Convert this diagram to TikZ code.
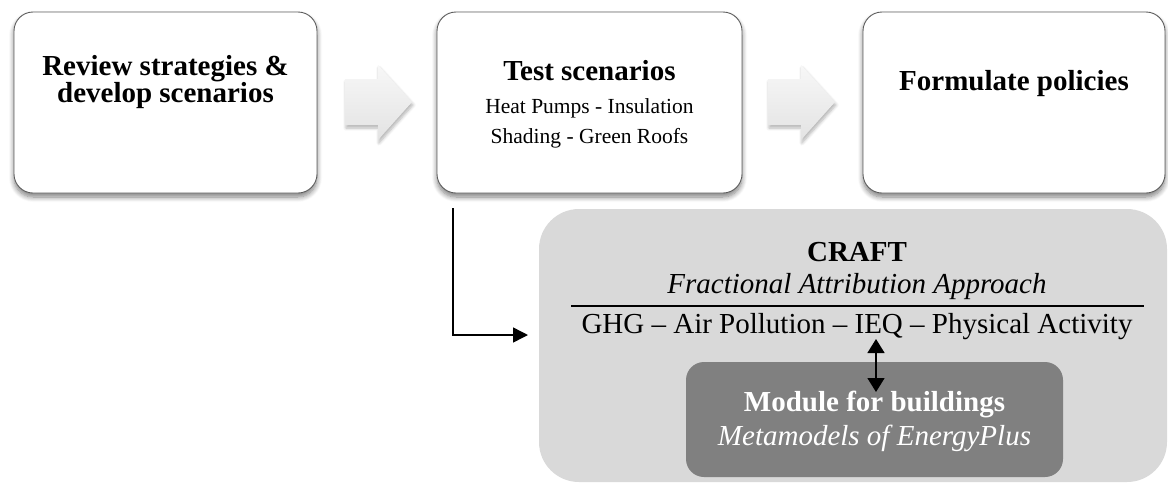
\documentclass[tikz,border=0pt]{standalone}
\usepackage{fontspec}
\setmainfont{Liberation Serif}
\usetikzlibrary{arrows.meta,shadows.blur}
\definecolor{boxborder}{HTML}{5E5E5E}
\definecolor{craftgray}{HTML}{D9D9D9}
\definecolor{modgray}{HTML}{808080}
\begin{document}
\begin{tikzpicture}[x=1pt,y=-1pt,
  stepbox/.style={draw=boxborder, line width=0.9pt, fill=white, rounded corners=19pt,
    inner sep=0pt, outer sep=0pt, anchor=north west,
    blur shadow={shadow xshift=0pt, shadow yshift=-4pt, shadow blur radius=5pt, shadow blur steps=8, shadow opacity=50}},
  bigtitle/.style={font=\fontsize{29}{29}\selectfont\bfseries, anchor=base, inner sep=0pt},
  bigital/.style={font=\fontsize{29}{29}\selectfont\itshape, anchor=base, inner sep=0pt},
  bigreg/.style={font=\fontsize{29}{29}\selectfont, anchor=base, inner sep=0pt},
  smalltext/.style={font=\fontsize{21.5}{21.5}\selectfont, anchor=base, inner sep=0pt},
  arrowfill/.style={top color=gray!6, bottom color=gray!22, draw=none,
    blur shadow={shadow xshift=1pt, shadow yshift=-3pt, shadow blur radius=3pt, shadow blur steps=6, shadow opacity=30}},
  conn/.style={line width=1.5pt, -{Triangle[length=15pt,width=15pt]}},
  dconn/.style={line width=1.5pt, {Triangle[length=14pt,width=17pt]}-{Triangle[length=14pt,width=17pt]}},
  blockarr/.pic={
    \path[arrowfill] (0,14) -- (33,14) -- (33,0) -- (67,37) -- (33,75) -- (33,60) -- (0,60) -- cycle;
  }
]
\useasboundingbox (0,0) rectangle (1168,483);

% top boxes
\node[stepbox, minimum width=303pt, minimum height=181pt] (b1) at (14,12) {};
\node[stepbox, minimum width=305pt, minimum height=181pt] (b2) at (437,12) {};
\node[stepbox, minimum width=302pt, minimum height=181pt] (b3) at (863,12) {};

% block arrows
\pic at (345,65) {blockarr};
\pic at (768,65) {blockarr};

% box texts
\node[font=\fontsize{29}{24}\selectfont\bfseries, align=center, inner sep=0pt, anchor=center] (t1) at (165.5,82)
  {Review strategies \&\\develop scenarios};
\node[bigtitle] (t2a) at (589.5,80) {Test scenarios};
\node[smalltext] (t2b) at (589.5,113) {Heat Pumps - Insulation};
\node[smalltext] (t2c) at (589.5,143) {Shading - Green Roofs};
\node[bigtitle] (t3a) at (1014,90) {Formulate policies};

% CRAFT box
\node[fill=craftgray, rounded corners=40pt, minimum width=628pt, minimum height=273pt,
  inner sep=0pt, outer sep=0pt, anchor=north west] (craft) at (539,209) {};
\node[fill=modgray, rounded corners=18pt, minimum width=377pt, minimum height=115pt,
  inner sep=0pt, outer sep=0pt, anchor=north west] (module) at (686,362) {};

\node[bigtitle] (crafttitle) at (857,261) {CRAFT};
\node[bigital] (craftsub) at (857,293) {Fractional Attribution Approach};
\coordinate (ruleL) at (571,306);
\coordinate (ruleR) at (1144,306);
\draw[line width=1.6pt] (ruleL) -- (ruleR);
\node[bigreg] (ghg) at (857,333) {GHG -- Air Pollution -- IEQ -- Physical Activity};
\node[bigtitle, text=white] (modtitle) at (874.5,411) {Module for buildings};
\node[bigital, text=white] (modsub) at (874.5,445) {Metamodels of EnergyPlus};

% connectors
\coordinate (lstart) at (453,208);
\coordinate (ltip) at (528,335);
\draw[conn] (lstart) |- (ltip);
\coordinate (dtop) at (876,339);
\coordinate (dbot) at (876,392);
\draw[dconn] (dtop) -- (dbot);
\end{tikzpicture}
\end{document}
